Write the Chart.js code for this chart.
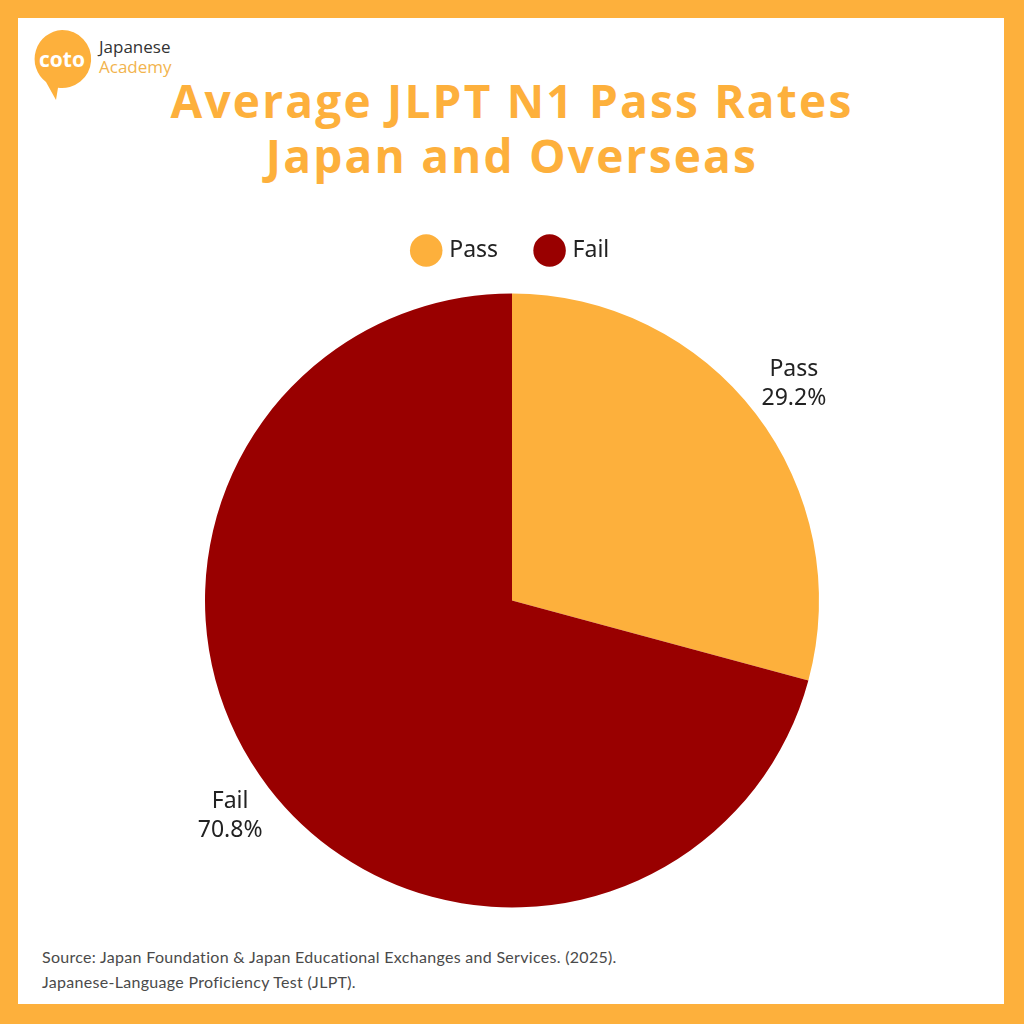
<!DOCTYPE html>
<html>
<head>
<meta charset="utf-8">
<script src="https://cdn.jsdelivr.net/npm/chart.js@4/dist/chart.umd.min.js"></script>
<style>
  html, body { margin:0; padding:0; }
  body { width:1024px; height:1024px; background:#FDB03C; position:relative; overflow:hidden; font-family:"Noto Sans", sans-serif; }
  #inner { position:absolute; left:18px; top:18px; width:986px; height:986px; background:#fff; }
  #title { position:absolute; left:0; width:1024px; top:73px; text-align:center; color:#FDB03C; font-family:"Open Sans", sans-serif; font-weight:700; font-size:46px; line-height:55px; letter-spacing:2.2px; }
  #source { position:absolute; left:42px; top:944px; color:#4a4a4a; font-family:Lato, sans-serif; font-weight:400; font-size:16px; line-height:25px; letter-spacing:0.3px; }
  #logo { position:absolute; left:28px; top:28px; }
  #logoText { position:absolute; left:99px; top:37px; font-family:"Open Sans", sans-serif; font-size:17px; line-height:20px; }
  #wrap { position:absolute; left:0; top:199px; width:1024px; height:730px; }
</style>
</head>
<body>
<div id="inner"></div>
<svg id="logo" width="70" height="76" viewBox="0 0 70 76">
  <path d="M34 2 A29 29 0 1 1 30 59.7 L28 72 L18 54 A29 29 0 0 1 34 2 Z" fill="#FDB03C"/>
  <text x="34" y="39" text-anchor="middle" fill="#fff" font-family="Open Sans, sans-serif" font-weight="700" font-size="21">coto</text>
</svg>
<div id="logoText"><span style="color:#333">Japanese</span><br><span style="color:#F2B44E">Academy</span></div>
<div id="title">Average JLPT N1 Pass Rates<br>Japan and Overseas</div>
<div id="wrap"><canvas id="c"></canvas></div>
<div id="source">Source: Japan Foundation &amp; Japan Educational Exchanges and Services. (2025).<br>Japanese-Language Proficiency Test (JLPT).</div>
<script>
const categories = ["Pass", "Fail"];
const shares = [29.2, 70.8];
const sliceColors = ["#FDB03C", "#990000"];

const outsideLabels = {
  id: "outsideLabels",
  afterDatasetsDraw(chart) {
    const ctx = chart.ctx;
    const meta = chart.getDatasetMeta(0);
    ctx.save();
    ctx.font = '23px "Noto Sans", sans-serif';
    ctx.fillStyle = "#222";
    ctx.textAlign = "center";
    ctx.textBaseline = "middle";
    meta.data.forEach((arc, i) => {
      const p = arc.getProps(["x", "y", "startAngle", "endAngle", "outerRadius"], true);
      const mid = (p.startAngle + p.endAngle) / 2;
      const d = p.outerRadius + 48;
      const x = p.x + Math.cos(mid) * d;
      const y = p.y + Math.sin(mid) * d;
      ctx.fillText(categories[i], x, y - 15);
      ctx.fillText(shares[i].toFixed(1) + "%", x, y + 14);
    });
    ctx.restore();
  }
};

new Chart(document.getElementById("c"), {
  type: "pie",
  data: {
    labels: categories,
    datasets: [{ data: shares, backgroundColor: sliceColors, borderWidth: 0, radius: 307 }]
  },
  options: {
    responsive: true,
    maintainAspectRatio: false,
    animation: false,
    layout: { padding: 0 },
    plugins: {
      legend: {
        position: "top",
        labels: {
          usePointStyle: true,
          pointStyle: "circle",
          boxWidth: 23,
          boxHeight: 23,
          padding: 40,
          color: "#222",
          font: { family: "Noto Sans", size: 23 }
        }
      },
      tooltip: { enabled: false }
    }
  },
  plugins: [outsideLabels]
});
</script>
</body>
</html>
